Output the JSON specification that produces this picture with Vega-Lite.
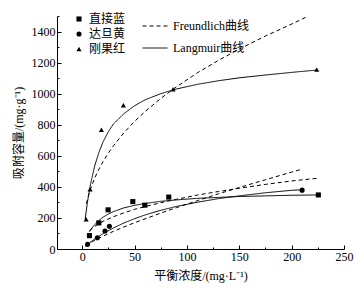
{
  "$schema": "https://vega.github.io/schema/vega-lite/v6.json",
  "width": 287,
  "height": 233,
  "autosize": {"type": "none"},
  "padding": {"left": 57, "top": 16, "right": 12, "bottom": 40},
  "config": {
    "view": {"stroke": null},
    "font": "Liberation Serif, Noto Sans CJK SC",
    "axis": {
      "domainColor": "black",
      "domainWidth": 1,
      "tickColor": "black",
      "tickWidth": 1,
      "grid": false,
      "labelColor": "black",
      "labelFont": "Liberation Serif",
      "labelFontSize": 12,
      "titleColor": "black",
      "titleFont": "Liberation Serif, Noto Sans CJK SC",
      "titleFontSize": 12,
      "titleFontWeight": "normal"
    },
    "legend": {
      "labelFont": "Liberation Serif, Noto Sans CJK SC",
      "labelFontSize": 12,
      "labelColor": "black"
    }
  },
  "datasets": {
    "pts": [
      {"c": 7, "q": 86, "dye": "直接蓝"},
      {"c": 15.9, "q": 168, "dye": "直接蓝"},
      {"c": 24.8, "q": 252, "dye": "直接蓝"},
      {"c": 48.4, "q": 305, "dye": "直接蓝"},
      {"c": 59.8, "q": 282, "dye": "直接蓝"},
      {"c": 82.7, "q": 334, "dye": "直接蓝"},
      {"c": 225.5, "q": 348, "dye": "直接蓝"},
      {"c": 5.2, "q": 30, "dye": "达旦黄"},
      {"c": 14.5, "q": 72, "dye": "达旦黄"},
      {"c": 21.8, "q": 116, "dye": "达旦黄"},
      {"c": 26, "q": 146, "dye": "达旦黄"},
      {"c": 210, "q": 379, "dye": "达旦黄"},
      {"c": 3.8, "q": 192, "dye": "刚果红"},
      {"c": 7.6, "q": 385, "dye": "刚果红"},
      {"c": 18.4, "q": 768, "dye": "刚果红"},
      {"c": 39.4, "q": 925, "dye": "刚果红"},
      {"c": 86.8, "q": 1028, "dye": "刚果红"},
      {"c": 224, "q": 1155, "dye": "刚果红"}
    ],
    "fits": [
      {"c": 2.9, "q": 193, "dye": "刚果红", "model": "Langmuir曲线"},
      {"c": 5, "q": 299, "dye": "刚果红", "model": "Langmuir曲线"},
      {"c": 8, "q": 417, "dye": "刚果红", "model": "Langmuir曲线"},
      {"c": 12, "q": 535, "dye": "刚果红", "model": "Langmuir曲线"},
      {"c": 16, "q": 622, "dye": "刚果红", "model": "Langmuir曲线"},
      {"c": 20, "q": 690, "dye": "刚果红", "model": "Langmuir曲线"},
      {"c": 25, "q": 755, "dye": "刚果红", "model": "Langmuir曲线"},
      {"c": 30, "q": 806, "dye": "刚果红", "model": "Langmuir曲线"},
      {"c": 40, "q": 872, "dye": "刚果红", "model": "Langmuir曲线"},
      {"c": 50, "q": 922, "dye": "刚果红", "model": "Langmuir曲线"},
      {"c": 60, "q": 960, "dye": "刚果红", "model": "Langmuir曲线"},
      {"c": 75, "q": 1000, "dye": "刚果红", "model": "Langmuir曲线"},
      {"c": 90, "q": 1030, "dye": "刚果红", "model": "Langmuir曲线"},
      {"c": 110, "q": 1060, "dye": "刚果红", "model": "Langmuir曲线"},
      {"c": 130, "q": 1083, "dye": "刚果红", "model": "Langmuir曲线"},
      {"c": 150, "q": 1102, "dye": "刚果红", "model": "Langmuir曲线"},
      {"c": 175, "q": 1120, "dye": "刚果红", "model": "Langmuir曲线"},
      {"c": 200, "q": 1137, "dye": "刚果红", "model": "Langmuir曲线"},
      {"c": 224, "q": 1152, "dye": "刚果红", "model": "Langmuir曲线"},
      {"c": 4, "q": 291, "dye": "刚果红", "model": "Freundlich曲线"},
      {"c": 6, "q": 344, "dye": "刚果红", "model": "Freundlich曲线"},
      {"c": 8, "q": 387, "dye": "刚果红", "model": "Freundlich曲线"},
      {"c": 12, "q": 457, "dye": "刚果红", "model": "Freundlich曲线"},
      {"c": 16, "q": 514, "dye": "刚果红", "model": "Freundlich曲线"},
      {"c": 20, "q": 563, "dye": "刚果红", "model": "Freundlich曲线"},
      {"c": 25, "q": 617, "dye": "刚果红", "model": "Freundlich曲线"},
      {"c": 30, "q": 665, "dye": "刚果红", "model": "Freundlich曲线"},
      {"c": 40, "q": 749, "dye": "刚果红", "model": "Freundlich曲线"},
      {"c": 50, "q": 821, "dye": "刚果红", "model": "Freundlich曲线"},
      {"c": 60, "q": 884, "dye": "刚果红", "model": "Freundlich曲线"},
      {"c": 75, "q": 969, "dye": "刚果红", "model": "Freundlich曲线"},
      {"c": 90, "q": 1044, "dye": "刚果红", "model": "Freundlich曲线"},
      {"c": 110, "q": 1134, "dye": "刚果红", "model": "Freundlich曲线"},
      {"c": 130, "q": 1214, "dye": "刚果红", "model": "Freundlich曲线"},
      {"c": 150, "q": 1287, "dye": "刚果红", "model": "Freundlich曲线"},
      {"c": 175, "q": 1371, "dye": "刚果红", "model": "Freundlich曲线"},
      {"c": 200, "q": 1448, "dye": "刚果红", "model": "Freundlich曲线"},
      {"c": 216, "q": 1500, "dye": "刚果红", "model": "Freundlich曲线"},
      {"c": 7, "q": 111, "dye": "直接蓝", "model": "Langmuir曲线"},
      {"c": 10, "q": 141, "dye": "直接蓝", "model": "Langmuir曲线"},
      {"c": 15, "q": 178, "dye": "直接蓝", "model": "Langmuir曲线"},
      {"c": 20, "q": 205, "dye": "直接蓝", "model": "Langmuir曲线"},
      {"c": 25, "q": 225, "dye": "直接蓝", "model": "Langmuir曲线"},
      {"c": 30, "q": 241, "dye": "直接蓝", "model": "Langmuir曲线"},
      {"c": 40, "q": 265, "dye": "直接蓝", "model": "Langmuir曲线"},
      {"c": 50, "q": 281, "dye": "直接蓝", "model": "Langmuir曲线"},
      {"c": 60, "q": 293, "dye": "直接蓝", "model": "Langmuir曲线"},
      {"c": 75, "q": 307, "dye": "直接蓝", "model": "Langmuir曲线"},
      {"c": 90, "q": 316, "dye": "直接蓝", "model": "Langmuir曲线"},
      {"c": 110, "q": 326, "dye": "直接蓝", "model": "Langmuir曲线"},
      {"c": 130, "q": 332, "dye": "直接蓝", "model": "Langmuir曲线"},
      {"c": 150, "q": 338, "dye": "直接蓝", "model": "Langmuir曲线"},
      {"c": 175, "q": 342, "dye": "直接蓝", "model": "Langmuir曲线"},
      {"c": 200, "q": 346, "dye": "直接蓝", "model": "Langmuir曲线"},
      {"c": 225.5, "q": 348, "dye": "直接蓝", "model": "Langmuir曲线"},
      {"c": 7, "q": 118, "dye": "直接蓝", "model": "Freundlich曲线"},
      {"c": 10, "q": 135, "dye": "直接蓝", "model": "Freundlich曲线"},
      {"c": 15, "q": 159, "dye": "直接蓝", "model": "Freundlich曲线"},
      {"c": 20, "q": 178, "dye": "直接蓝", "model": "Freundlich曲线"},
      {"c": 30, "q": 208, "dye": "直接蓝", "model": "Freundlich曲线"},
      {"c": 40, "q": 233, "dye": "直接蓝", "model": "Freundlich曲线"},
      {"c": 50, "q": 255, "dye": "直接蓝", "model": "Freundlich曲线"},
      {"c": 60, "q": 273, "dye": "直接蓝", "model": "Freundlich曲线"},
      {"c": 75, "q": 298, "dye": "直接蓝", "model": "Freundlich曲线"},
      {"c": 90, "q": 320, "dye": "直接蓝", "model": "Freundlich曲线"},
      {"c": 110, "q": 347, "dye": "直接蓝", "model": "Freundlich曲线"},
      {"c": 130, "q": 370, "dye": "直接蓝", "model": "Freundlich曲线"},
      {"c": 150, "q": 391, "dye": "直接蓝", "model": "Freundlich曲线"},
      {"c": 175, "q": 416, "dye": "直接蓝", "model": "Freundlich曲线"},
      {"c": 200, "q": 438, "dye": "直接蓝", "model": "Freundlich曲线"},
      {"c": 225.5, "q": 456, "dye": "直接蓝", "model": "Freundlich曲线"},
      {"c": 3.2, "q": 19, "dye": "达旦黄", "model": "Langmuir曲线"},
      {"c": 5, "q": 29, "dye": "达旦黄", "model": "Langmuir曲线"},
      {"c": 10, "q": 55, "dye": "达旦黄", "model": "Langmuir曲线"},
      {"c": 15, "q": 78, "dye": "达旦黄", "model": "Langmuir曲线"},
      {"c": 20, "q": 99, "dye": "达旦黄", "model": "Langmuir曲线"},
      {"c": 30, "q": 136, "dye": "达旦黄", "model": "Langmuir曲线"},
      {"c": 40, "q": 168, "dye": "达旦黄", "model": "Langmuir曲线"},
      {"c": 50, "q": 195, "dye": "达旦黄", "model": "Langmuir曲线"},
      {"c": 60, "q": 219, "dye": "达旦黄", "model": "Langmuir曲线"},
      {"c": 75, "q": 249, "dye": "达旦黄", "model": "Langmuir曲线"},
      {"c": 90, "q": 274, "dye": "达旦黄", "model": "Langmuir曲线"},
      {"c": 110, "q": 301, "dye": "达旦黄", "model": "Langmuir曲线"},
      {"c": 130, "q": 324, "dye": "达旦黄", "model": "Langmuir曲线"},
      {"c": 150, "q": 342, "dye": "达旦黄", "model": "Langmuir曲线"},
      {"c": 175, "q": 362, "dye": "达旦黄", "model": "Langmuir曲线"},
      {"c": 200, "q": 378, "dye": "达旦黄", "model": "Langmuir曲线"},
      {"c": 210, "q": 381, "dye": "达旦黄", "model": "Langmuir曲线"},
      {"c": 3.2, "q": 20, "dye": "达旦黄", "model": "Freundlich曲线"},
      {"c": 5, "q": 28, "dye": "达旦黄", "model": "Freundlich曲线"},
      {"c": 10, "q": 48, "dye": "达旦黄", "model": "Freundlich曲线"},
      {"c": 15, "q": 66, "dye": "达旦黄", "model": "Freundlich曲线"},
      {"c": 20, "q": 83, "dye": "达旦黄", "model": "Freundlich曲线"},
      {"c": 30, "q": 114, "dye": "达旦黄", "model": "Freundlich曲线"},
      {"c": 40, "q": 142, "dye": "达旦黄", "model": "Freundlich曲线"},
      {"c": 50, "q": 169, "dye": "达旦黄", "model": "Freundlich曲线"},
      {"c": 60, "q": 194, "dye": "达旦黄", "model": "Freundlich曲线"},
      {"c": 75, "q": 231, "dye": "达旦黄", "model": "Freundlich曲线"},
      {"c": 90, "q": 266, "dye": "达旦黄", "model": "Freundlich曲线"},
      {"c": 110, "q": 311, "dye": "达旦黄", "model": "Freundlich曲线"},
      {"c": 130, "q": 355, "dye": "达旦黄", "model": "Freundlich曲线"},
      {"c": 150, "q": 396, "dye": "达旦黄", "model": "Freundlich曲线"},
      {"c": 175, "q": 446, "dye": "达旦黄", "model": "Freundlich曲线"},
      {"c": 200, "q": 495, "dye": "达旦黄", "model": "Freundlich曲线"},
      {"c": 210, "q": 514, "dye": "达旦黄", "model": "Freundlich曲线"}
    ]
  },
  "layer": [
    {
      "data": {"name": "fits"},
      "mark": {"type": "line", "color": "black", "strokeWidth": 1, "clip": true},
      "encoding": {
        "x": {
          "field": "c", "type": "quantitative",
          "scale": {"domain": [-24, 250], "nice": false, "zero": false},
          "axis": {
            "title": "平衡浓度/(mg·L⁻¹)",
            "titlePadding": 6,
            "values": [0, 25, 50, 75, 100, 125, 150, 175, 200, 225, 250],
            "tickCount": 50,
            "labelExpr": "datum.value % 50 === 0 ? datum.label : ''",
            "labelOverlap": false,
            "labelFlush": false,
            "tickSize": {"condition": {"test": "datum.value % 50 === 0", "value": -4}, "value": -2},
            "labelPadding": 6
          }
        },
        "y": {
          "field": "q", "type": "quantitative",
          "scale": {"domain": [0, 1500], "nice": false},
          "axis": {
            "title": "吸附容量/(mg·g⁻¹)",
            "titlePadding": 6,
            "values": [0, 100, 200, 300, 400, 500, 600, 700, 800, 900, 1000, 1100, 1200, 1300, 1400, 1500],
            "tickCount": 50,
            "labelExpr": "datum.value % 200 === 0 && datum.value < 1500 ? datum.label : ''",
            "labelOverlap": false,
            "labelFlush": false,
            "format": "d",
            "tickSize": {"condition": {"test": "datum.value % 200 === 0", "value": -4}, "value": -2},
            "labelPadding": 6
          }
        },
        "detail": {"field": "dye"},
        "strokeDash": {
          "field": "model", "type": "nominal",
          "scale": {"domain": ["Freundlich曲线", "Langmuir曲线"], "range": [[4, 3], [1, 0]]},
          "legend": {
            "title": null,
            "orient": "none",
            "legendX": 85,
            "legendY": -3,
            "symbolType": "stroke",
            "symbolSize": 625,
            "symbolStrokeColor": "black",
            "symbolStrokeWidth": 1,
            "rowPadding": 3,
            "labelOffset": 5
          }
        }
      }
    },
    {
      "data": {"name": "pts"},
      "mark": {"type": "point", "filled": true, "color": "black", "opacity": 1, "size": 26},
      "encoding": {
        "x": {"field": "c", "type": "quantitative"},
        "y": {"field": "q", "type": "quantitative"},
        "shape": {
          "field": "dye", "type": "nominal",
          "scale": {"domain": ["直接蓝", "达旦黄", "刚果红"], "range": ["square", "circle", "triangle-up"]},
          "legend": {
            "title": null,
            "orient": "none",
            "legendX": 16,
            "legendY": -3,
            "symbolFillColor": "black",
            "symbolStrokeColor": "black",
            "symbolSize": 26,
            "rowPadding": 3
          }
        }
      }
    }
  ]
}
